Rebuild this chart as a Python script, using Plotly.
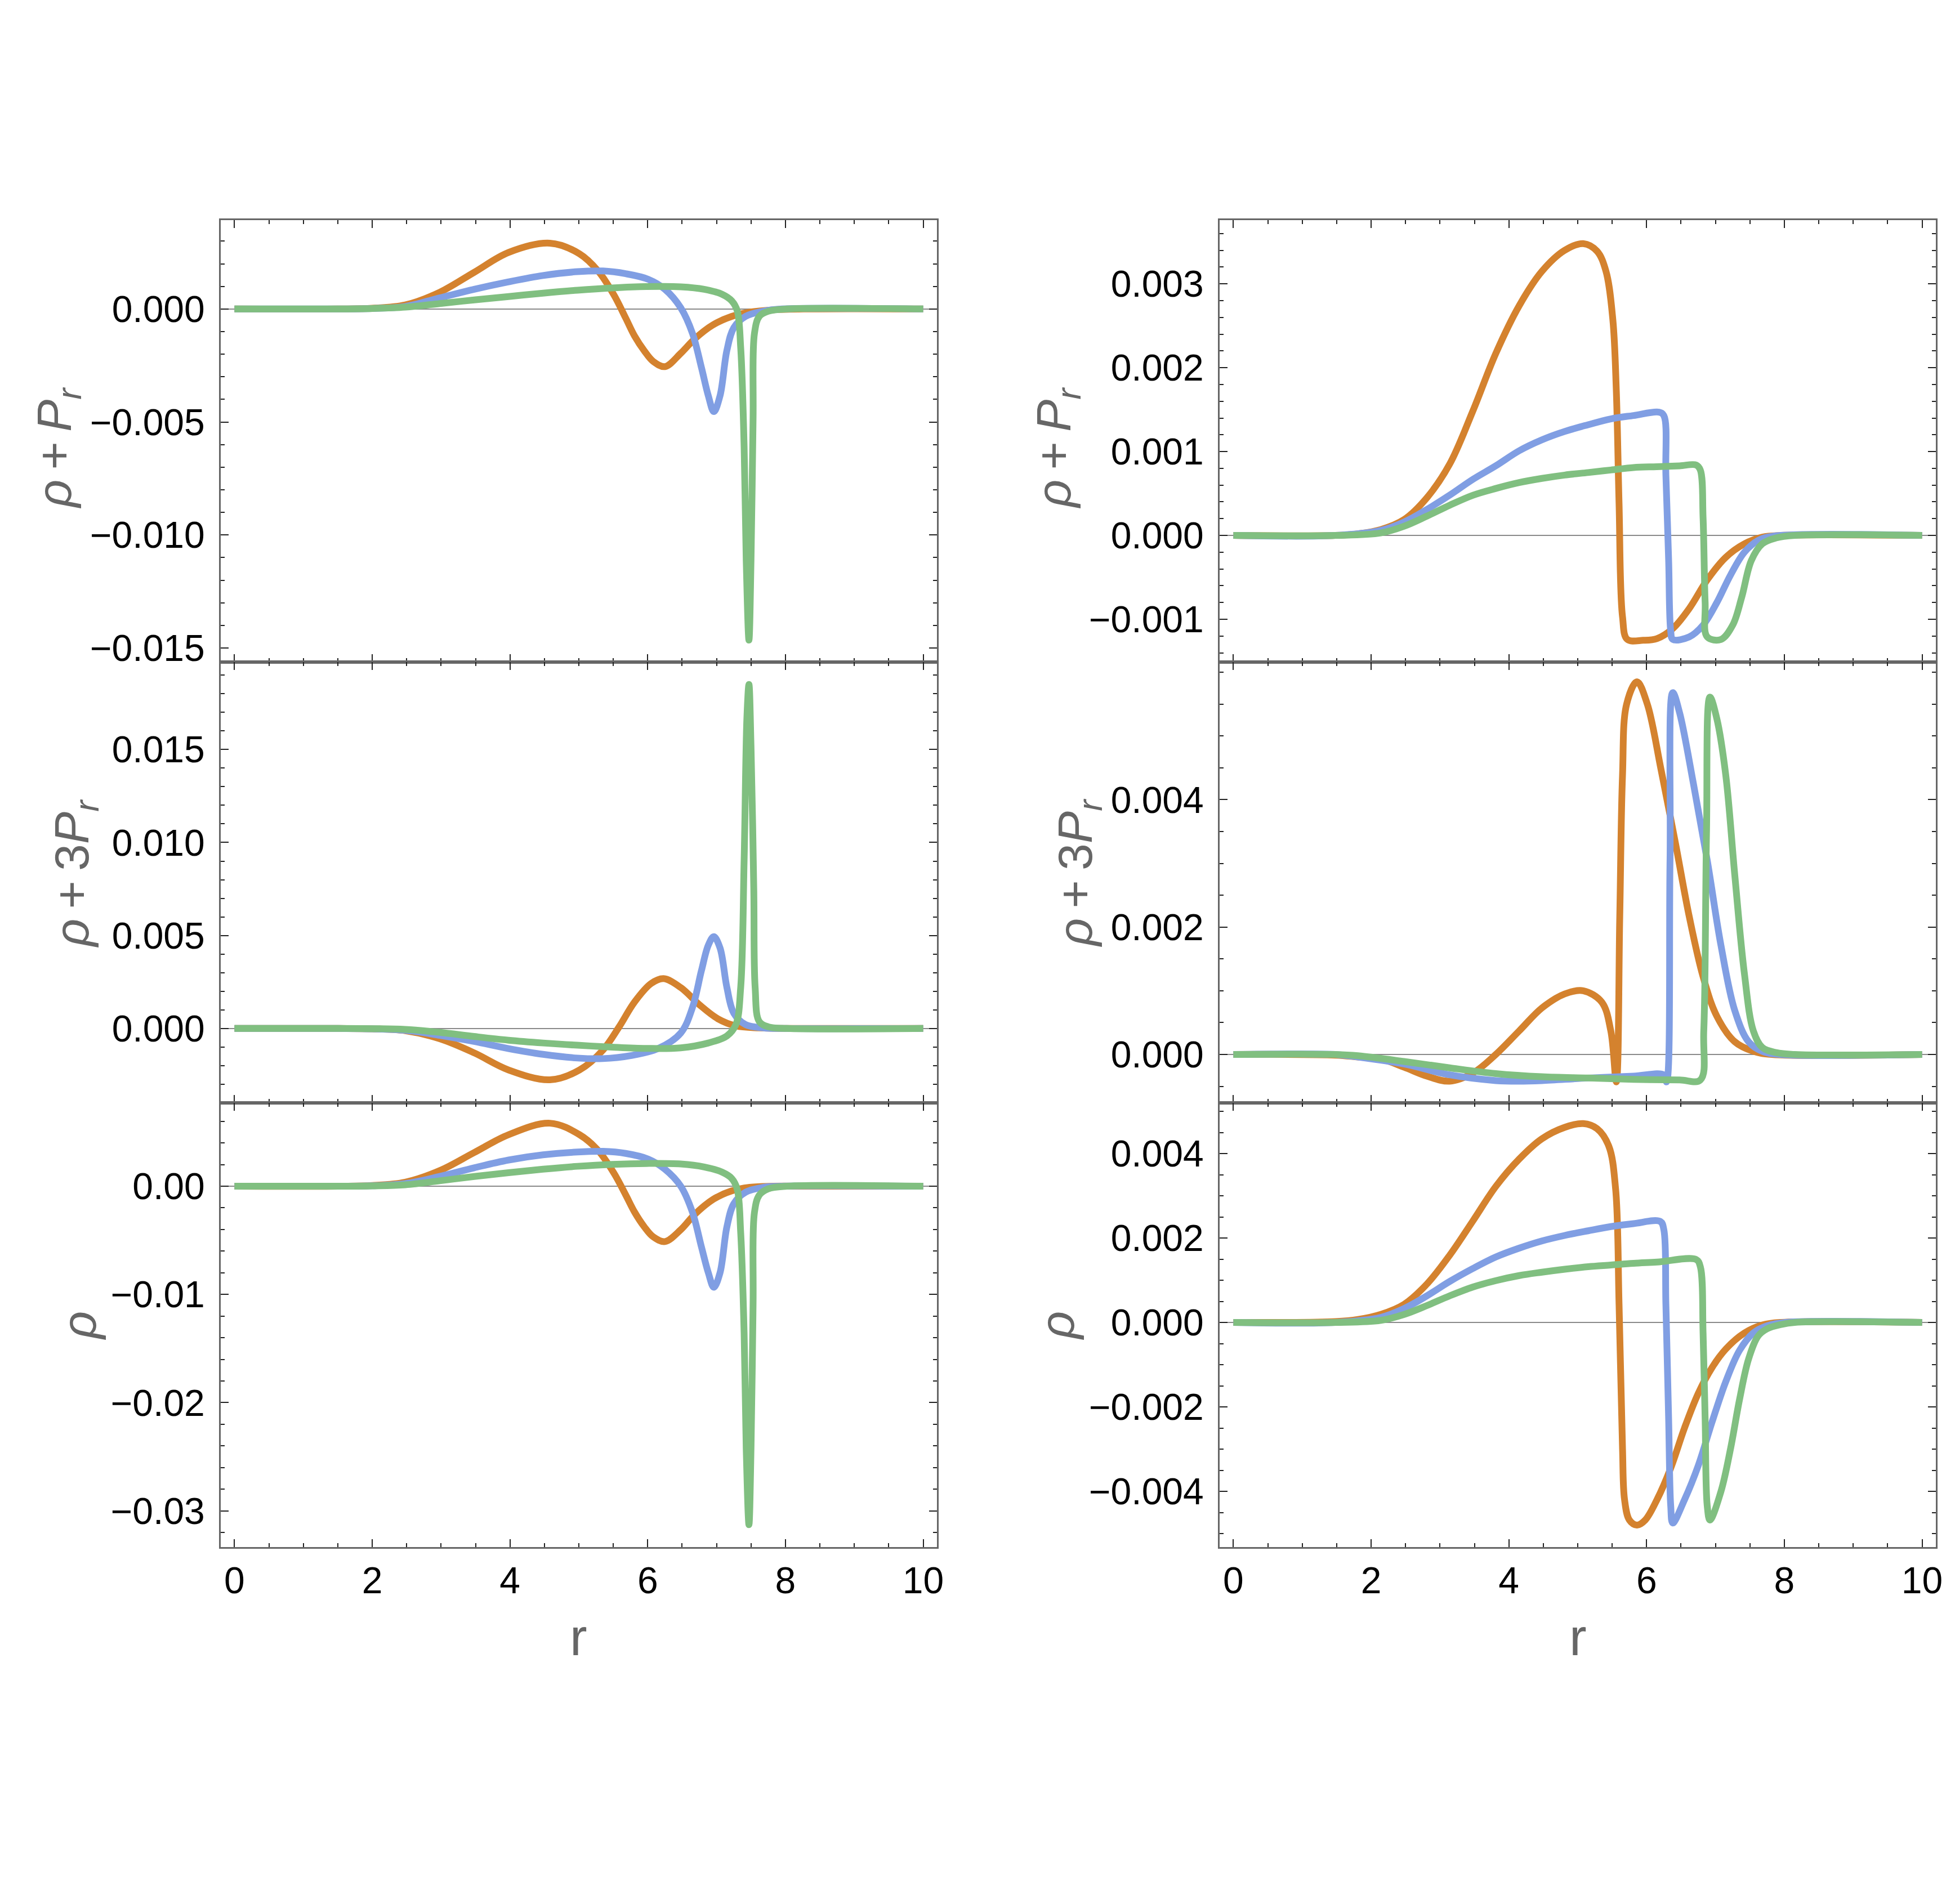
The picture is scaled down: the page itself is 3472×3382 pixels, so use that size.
import plotly.graph_objects as go
from plotly.subplots import make_subplots

# ---- data (r, value) ----
# left column, top: rho + P_r
r_tl_orange = [0, 1.5, 2.0, 2.48, 2.98, 3.48, 3.98, 4.58, 5.01, 5.28, 5.51, 5.68, 5.81, 5.95, 6.08, 6.25, 6.48, 6.68, 6.95, 7.22, 7.48, 7.82, 8.3, 10]
v_tl_orange = [0, 0, 0.00003, 0.00018, 0.00074, 0.00162, 0.0025, 0.00291, 0.00244, 0.00168, 0.00062, -0.0004, -0.0012, -0.00185, -0.00232, -0.00255, -0.00196, -0.00133, -0.0007, -0.00033, -0.00014, -0.00004, 0, 0]
r_tl_blue = [0, 1.5, 2.0, 2.48, 2.98, 3.48, 3.98, 4.48, 4.98, 5.35, 5.68, 6.01, 6.25, 6.48, 6.65, 6.78, 6.88, 6.96, 7.05, 7.15, 7.25, 7.42, 7.68, 7.95, 10]
v_tl_blue = [0, 0, 0.00002, 0.00011, 0.00049, 0.00087, 0.0012, 0.00148, 0.00165, 0.00168, 0.00156, 0.00131, 0.00087, 0.00005, -0.00108, -0.00259, -0.00384, -0.00454, -0.00384, -0.00183, -0.00083, -0.00033, -0.0001, 0, 0]
r_tl_green = [0, 1.5, 2.0, 2.48, 2.98, 3.48, 3.98, 4.48, 4.98, 5.48, 5.98, 6.48, 6.82, 7.08, 7.22, 7.30, 7.35, 7.40, 7.43, 7.47, 7.50, 7.53, 7.55, 7.62, 7.75, 8.02, 10]
v_tl_green = [0, 0, 0.00002, 0.00008, 0.00024, 0.0004, 0.00055, 0.0007, 0.00083, 0.00093, 0.00099, 0.00098, 0.00087, 0.00065, 0.00036, -0.00008, -0.0017, -0.0061, -0.0111, -0.01465, -0.0111, -0.00485, -0.00108, -0.00033, -0.0001, 0, 0]

# left column, middle: rho + 3 P_r
r_ml_orange = [0, 1.5, 2.0, 2.48, 2.98, 3.48, 3.98, 4.58, 5.01, 5.35, 5.58, 5.81, 6.05, 6.23, 6.48, 6.75, 7.02, 7.28, 7.62, 8.0, 10]
v_ml_orange = [0, 0, -0.00002, -0.00012, -0.00055, -0.00131, -0.00223, -0.00276, -0.00223, -0.00116, 0.00006, 0.00143, 0.00242, 0.00268, 0.0022, 0.00128, 0.00052, 0.00014, 0.00003, 0, 0]
r_ml_blue = [0, 1.5, 2.0, 2.48, 2.98, 3.48, 3.98, 4.48, 4.98, 5.35, 5.75, 6.15, 6.48, 6.65, 6.78, 6.88, 6.96, 7.05, 7.15, 7.25, 7.42, 7.68, 8.0, 10]
v_ml_blue = [0, 0, -0.00002, -0.0001, -0.00037, -0.0007, -0.00108, -0.00139, -0.00159, -0.00162, -0.00146, -0.00108, -0.00024, 0.00113, 0.00311, 0.00448, 0.00494, 0.00433, 0.0022, 0.00082, 0.00021, 0.00003, 0, 0]
r_ml_green = [0, 1.5, 2.0, 2.48, 2.98, 3.48, 3.98, 4.48, 4.98, 5.48, 5.98, 6.48, 6.88, 7.15, 7.28, 7.35, 7.40, 7.44, 7.47, 7.50, 7.54, 7.56, 7.62, 7.75, 8.02, 10]
v_ml_green = [0, 0, -0.00001, -0.00005, -0.00021, -0.00043, -0.00063, -0.00078, -0.0009, -0.001, -0.00107, -0.00104, -0.00078, -0.0004, 0.00021, 0.0022, 0.00905, 0.01668, 0.0185, 0.01515, 0.00753, 0.0022, 0.00037, 0.00009, 0, 0]

# left column, bottom: rho
r_bl_orange = r_tl_orange
v_bl_orange = [0, 0, 0.00006, 0.00037, 0.00144, 0.00311, 0.00476, 0.00582, 0.00476, 0.0033, 0.0012, -0.0008, -0.0024, -0.00375, -0.00468, -0.00512, -0.00402, -0.00262, -0.00122, -0.00043, -0.0001, 0, 0, 0]
r_bl_blue = r_tl_blue
v_bl_blue = [0, 0, 0.00004, 0.00024, 0.0009, 0.0017, 0.00242, 0.0029, 0.00316, 0.00322, 0.00303, 0.0025, 0.00157, 0, -0.00242, -0.00561, -0.008, -0.00934, -0.008, -0.00375, -0.00162, -0.00056, -0.0001, 0, 0]
r_bl_green = r_tl_green
v_bl_green = [0, 0, 0.00003, 0.00013, 0.0005, 0.0009, 0.00125, 0.00157, 0.00184, 0.00202, 0.0021, 0.00205, 0.00178, 0.0013, 0.00072, -0.00029, -0.00428, -0.0136, -0.0242, -0.03128, -0.0242, -0.0109, -0.00242, -0.00082, -0.00024, 0, 0]

# right column, top: rho + P_r
r_tr_orange = [0, 1.48, 1.81, 2.14, 2.48, 2.81, 3.14, 3.48, 3.81, 4.15, 4.48, 4.81, 5.08, 5.28, 5.41, 5.51, 5.56, 5.60, 5.65, 5.72, 5.95, 6.15, 6.38, 6.62, 6.88, 7.15, 7.42, 7.68, 7.95, 10]
v_tr_orange = [0, 0, 0.00002, 0.00007, 0.00019, 0.00045, 0.00085, 0.00149, 0.00217, 0.00274, 0.00315, 0.0034, 0.00348, 0.00339, 0.00315, 0.00257, 0.00173, 0.00038, -0.00097, -0.00124, -0.00125, -0.00123, -0.00111, -0.00087, -0.00053, -0.00026, -0.0001, -0.00002, 0, 0]
r_tr_blue = [0, 1.48, 2.14, 2.48, 2.81, 3.14, 3.48, 3.81, 4.15, 4.48, 4.81, 5.15, 5.48, 5.81, 6.18, 6.25, 6.28, 6.32, 6.35, 6.38, 6.62, 6.82, 7.02, 7.22, 7.42, 7.62, 7.82, 10]
v_tr_blue = [0, 0, 0.00006, 0.00016, 0.00031, 0.00048, 0.00067, 0.00083, 0.00101, 0.00114, 0.00124, 0.00132, 0.00139, 0.00143, 0.00147, 0.00143, 0.00072, -0.0003, -0.00114, -0.00124, -0.00121, -0.00107, -0.0008, -0.00047, -0.0002, -0.00006, -0.00001, 0]
r_tr_green = [0, 1.48, 2.14, 2.48, 2.81, 3.14, 3.48, 3.81, 4.15, 4.48, 4.81, 5.15, 5.48, 5.81, 6.15, 6.48, 6.72, 6.78, 6.82, 6.85, 6.88, 7.08, 7.25, 7.38, 7.52, 7.68, 7.88, 8.15, 10]
v_tr_green = [0, 0, 0.00003, 0.00011, 0.00023, 0.00036, 0.00048, 0.00056, 0.00063, 0.00068, 0.00072, 0.00075, 0.00078, 0.00081, 0.00082, 0.00083, 0.00084, 0.00078, 0.00021, -0.0008, -0.00121, -0.00124, -0.00107, -0.00074, -0.0003, -0.0001, -0.00003, 0, 0]

# right column, middle: rho + 3 P_r
r_mr_orange = [0, 1.48, 1.81, 2.14, 2.48, 2.81, 3.14, 3.48, 3.81, 4.15, 4.48, 4.81, 5.08, 5.35, 5.48, 5.56, 5.61, 5.65, 5.71, 5.86, 6.01, 6.21, 6.42, 6.62, 6.82, 7.02, 7.28, 7.55, 7.82, 10]
v_mr_orange = [0, -0.00001, -0.00004, -0.00007, -0.0002, -0.00034, -0.00042, -0.00029, 0, 0.00037, 0.00073, 0.00095, 0.001, 0.00082, 0.00037, -0.00043, 0.00216, 0.00438, 0.0055, 0.00585, 0.0055, 0.00447, 0.00331, 0.00216, 0.00122, 0.0006, 0.0002, 0.00005, 0, 0]
r_mr_blue = [0, 1.48, 1.81, 2.48, 3.14, 3.81, 4.15, 4.48, 5.15, 5.81, 6.25, 6.29, 6.34, 6.38, 6.48, 6.68, 6.88, 7.08, 7.28, 7.48, 7.68, 7.95, 10]
v_mr_blue = [0, 0, -0.00004, -0.00015, -0.00032, -0.00041, -0.00042, -0.00041, -0.00037, -0.00034, -0.00032, -0.00043, 0.00305, 0.00568, 0.00536, 0.00425, 0.00305, 0.00171, 0.00069, 0.0002, 0.00005, 0, 0]
r_mr_green = [0, 1.48, 1.81, 2.48, 3.14, 3.81, 4.48, 5.15, 5.81, 6.48, 6.78, 6.83, 6.87, 6.92, 7.02, 7.15, 7.28, 7.42, 7.55, 7.68, 7.88, 8.15, 10]
v_mr_green = [0, 0, -0.00002, -0.00011, -0.00021, -0.0003, -0.00035, -0.00037, -0.00039, -0.0004, -0.0004, 0.00037, 0.00349, 0.00561, 0.00527, 0.00438, 0.00282, 0.00127, 0.00037, 0.00011, 0.00003, 0, 0]

# right column, bottom: rho
r_br_orange = [0, 1.48, 1.81, 2.14, 2.48, 2.81, 3.14, 3.48, 3.81, 4.15, 4.48, 4.81, 5.08, 5.28, 5.45, 5.55, 5.60, 5.65, 5.68, 5.75, 5.86, 5.98, 6.15, 6.35, 6.55, 6.75, 6.95, 7.15, 7.42, 7.68, 7.95, 10]
v_br_orange = [0, 0.00002, 0.00007, 0.00019, 0.00043, 0.00091, 0.00159, 0.00241, 0.00322, 0.00387, 0.00435, 0.00462, 0.00471, 0.00459, 0.00418, 0.00316, 0.00043, -0.00298, -0.0042, -0.00468, -0.0048, -0.00468, -0.0042, -0.00345, -0.0025, -0.00168, -0.00107, -0.00063, -0.00025, -0.00006, 0, 0]
r_br_blue = [0, 1.48, 2.14, 2.48, 2.81, 3.14, 3.48, 3.81, 4.15, 4.48, 4.81, 5.15, 5.48, 5.81, 6.20, 6.25, 6.28, 6.32, 6.35, 6.38, 6.55, 6.75, 6.95, 7.15, 7.35, 7.55, 7.75, 8.02, 10]
v_br_blue = [0, 0, 0.00012, 0.00033, 0.00063, 0.00097, 0.00128, 0.00155, 0.00176, 0.00193, 0.00206, 0.00217, 0.00227, 0.00234, 0.00239, 0.0022, 0.00043, -0.0023, -0.00434, -0.00475, -0.0042, -0.00339, -0.00236, -0.0014, -0.00066, -0.00025, -0.00008, 0, 0]
r_br_green = [0, 1.48, 2.14, 2.48, 2.81, 3.14, 3.48, 3.81, 4.15, 4.48, 4.81, 5.15, 5.48, 5.81, 6.15, 6.72, 6.78, 6.82, 6.85, 6.88, 6.92, 7.08, 7.22, 7.35, 7.48, 7.62, 7.75, 7.95, 8.15, 10]
v_br_green = [0, 0, 0.00005, 0.00019, 0.0004, 0.00063, 0.00084, 0.00099, 0.00111, 0.00119, 0.00126, 0.00132, 0.00136, 0.0014, 0.00143, 0.00149, 0.00132, -0.00025, -0.0023, -0.00434, -0.00468, -0.004, -0.00298, -0.00182, -0.00087, -0.00032, -0.00015, -0.00005, 0, 0]

x_ticks = [0, 2, 4, 6, 8, 10]
SP = "\u2009"
y_titles = [f"<i>ρ</i>{SP}+{SP}<i>P</i><sub><i>r</i></sub>",
            f"<i>ρ</i>{SP}+{SP}3<i>P</i><sub><i>r</i></sub>",
            "<i>ρ</i>"]

COLORS = ["#D4822E", "#809EE3", "#80BF80"]
FONT = "Liberation Sans, Arial, sans-serif"

panels = {
    (1, 1): [(r_tl_orange, v_tl_orange), (r_tl_blue, v_tl_blue), (r_tl_green, v_tl_green)],
    (2, 1): [(r_ml_orange, v_ml_orange), (r_ml_blue, v_ml_blue), (r_ml_green, v_ml_green)],
    (3, 1): [(r_bl_orange, v_bl_orange), (r_bl_blue, v_bl_blue), (r_bl_green, v_bl_green)],
    (1, 2): [(r_tr_orange, v_tr_orange), (r_tr_blue, v_tr_blue), (r_tr_green, v_tr_green)],
    (2, 2): [(r_mr_orange, v_mr_orange), (r_mr_blue, v_mr_blue), (r_mr_green, v_mr_green)],
    (3, 2): [(r_br_orange, v_br_orange), (r_br_blue, v_br_blue), (r_br_green, v_br_green)],
}

# y axis per panel: range, major tick values, minor dtick, format
yaxis_cfg = {
    (1, 1): ([-0.01562, 0.00393], [-0.015, -0.010, -0.005, 0.0], 0.001, ".3f"),
    (2, 1): ([-0.0040, 0.0197], [0.0, 0.005, 0.010, 0.015], 0.001, ".3f"),
    (3, 1): ([-0.03335, 0.0077], [-0.03, -0.02, -0.01, 0.0], 0.002, ".2f"),
    (1, 2): ([-0.00151, 0.00376], [-0.001, 0.0, 0.001, 0.002, 0.003], 0.0002, ".3f"),
    (2, 2): ([-0.00076, 0.00616], [0.0, 0.002, 0.004], 0.0005, ".3f"),
    (3, 2): ([-0.00532, 0.0052], [-0.004, -0.002, 0.0, 0.002, 0.004], 0.0005, ".3f"),
}

W, H = 3472, 3382
OX, OY = -8, -12  # page offset correction (px)
x_dom = {1: [(392 + OX) / W, (1664 + OX) / W], 2: [(2166 + OX) / W, (3438 + OX) / W]}
y_dom = {1: [1 - (1180 + OY) / H, 1 - (395 + OY) / H],
         2: [1 - (1963 + OY) / H, 1 - (1180 + OY) / H],
         3: [1 - (2752 + OY) / H, 1 - (1963 + OY) / H]}

fig = make_subplots(rows=3, cols=2)

for (row, col), series in panels.items():
    for (r, v), c in zip(series, COLORS):
        fig.add_trace(go.Scatter(x=r, y=v, mode="lines",
                                 line=dict(color=c, width=12, shape="spline", smoothing=1.0),
                                 showlegend=False, hoverinfo="skip"),
                      row=row, col=col)

axis_common = dict(showline=True, linecolor="#666666", linewidth=3, mirror="ticks",
                   ticks="inside", ticklen=14, tickwidth=2, tickcolor="#222222",
                   showgrid=False, automargin=False,
                   tickfont=dict(family=FONT, size=66, color="black"))

for (row, col), (rng, tv, mdt, fmt) in yaxis_cfg.items():
    fig.update_yaxes(range=rng, tickmode="array", tickvals=tv, tickformat=fmt,
                     ticklabelstandoff=12,
                     minor=dict(ticks="inside", tickmode="linear", dtick=mdt, tick0=0, ticklen=7,
                                tickwidth=2, tickcolor="#222222", showgrid=False),
                     zeroline=True, zerolinecolor="#8a8a8a", zerolinewidth=2,
                     domain=y_dom[row], row=row, col=col, **axis_common)
    fig.update_xaxes(range=[-0.2, 10.2], tickmode="array", tickvals=x_ticks,
                     showticklabels=(row == 3), ticklabelstandoff=0,
                     minor=dict(ticks="inside", tickmode="linear", dtick=0.5, tick0=0, ticklen=7,
                                tickwidth=2, tickcolor="#222222", showgrid=False),
                     zeroline=False, domain=x_dom[col], row=row, col=col, **axis_common)

title_pos = [
    (102, 800, y_titles[0]), (133, 1555, y_titles[1]), (140, 2359, y_titles[2]),
    (1877, 800, y_titles[0]), (1915, 1555, y_titles[1]), (1877, 2359, y_titles[2]),
]
for px_, py_, txt in title_pos:
    fig.add_annotation(x=(px_ + OX) / W, y=1 - (py_ + OY) / H, xref="paper", yref="paper",
                       text=txt, textangle=-90, showarrow=False,
                       xanchor="center", yanchor="middle",
                       font=dict(family=FONT, size=86, color="#666666"))
for cx in [(392 + 1664) / 2, (2166 + 3438) / 2]:
    fig.add_annotation(x=(cx + OX) / W, y=1 - (2912 + OY) / H, xref="paper", yref="paper",
                       text="r", showarrow=False, xanchor="center", yanchor="middle",
                       font=dict(family=FONT, size=92, color="#666666"))

fig.update_layout(width=W, height=H, margin=dict(l=0, r=0, t=0, b=0),
                  paper_bgcolor="white", plot_bgcolor="white")

fig.write_html("out.html")
